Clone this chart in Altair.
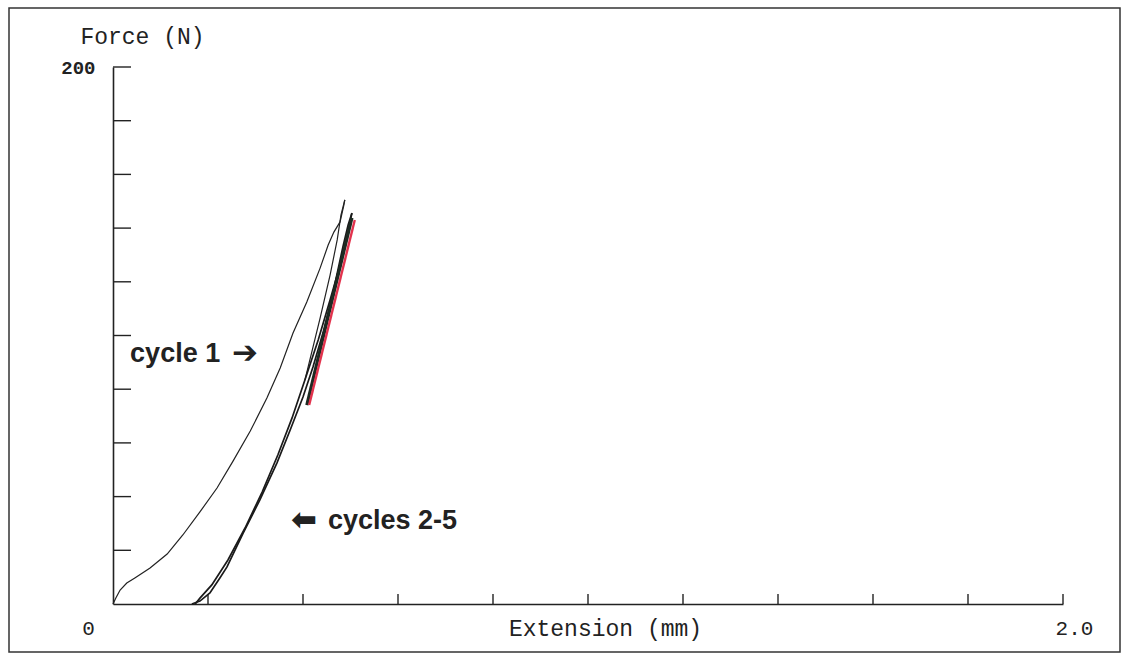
import altair as alt
import pandas as pd

# ---- data (Extension mm, Force N) ----
c1_load_x = [0.000, 0.006, 0.015, 0.029, 0.046, 0.078, 0.114, 0.147, 0.183, 0.219, 0.253, 0.289,
             0.324, 0.352, 0.379, 0.408, 0.436, 0.453, 0.465, 0.478, 0.486, 0.488]
c1_load_y = [0.0, 2.2, 5.2, 7.8, 9.7, 13.4, 18.6, 25.7, 34.3, 43.2, 53.3, 64.4,
             76.7, 87.9, 100.9, 112.5, 125.1, 133.7, 138.5, 142.3, 148.6, 150.5]

c1_unload_x = [0.488, 0.480, 0.472, 0.457, 0.436, 0.404]
c1_unload_y = [150.5, 144.9, 135.6, 122.5, 106.5, 83.4]

c25_load_x = [0.166, 0.183, 0.204, 0.225, 0.240, 0.274, 0.309, 0.345, 0.373, 0.400, 0.421,
              0.442, 0.463, 0.484, 0.495, 0.503]
c25_load_y = [0.0, 1.1, 4.1, 9.7, 13.8, 26.4, 38.7, 52.5, 64.8, 77.1, 88.3,
              100.9, 115.8, 133.0, 141.2, 145.6]

c25_unload_x = [0.503, 0.493, 0.478, 0.457, 0.432, 0.404, 0.377, 0.347, 0.314, 0.278, 0.242,
                0.208, 0.183, 0.173]
c25_unload_y = [145.6, 137.4, 126.3, 113.2, 98.3, 83.4, 69.3, 55.5, 41.7, 28.3, 16.4,
                7.1, 2.2, 0.0]

fit_x = [0.413, 0.509]
fit_y = [74.1, 143.0]
fit_shadow_x = [0.408, 0.503]
fit_shadow_y = [74.1, 143.8]

y_ticks = [20, 40, 60, 80, 100, 120, 140, 160, 180, 200]
x_ticks = [0.2, 0.4, 0.6, 0.8, 1.0, 1.2, 1.4, 1.6, 1.8, 2.0]

notes_text = ["cycle 1", "cycles 2-5"]
notes_x = [0.036, 0.4526]
notes_y = [93.1, 30.9]

arrows_text = ["\u2794", "\u2B05"]
arrows_x = [0.2505, 0.3747]
arrows_y = [93.1, 30.9]


def series(name, xs, ys):
    return pd.DataFrame({"series": name, "ext": xs, "force": ys, "order": range(len(xs))})


curves1 = pd.concat([
    series("c1_load", c1_load_x, c1_load_y),
    series("c1_unload", c1_unload_x, c1_unload_y),
])
curves25 = pd.concat([
    series("c25_load", c25_load_x, c25_load_y),
    series("c25_unload", c25_unload_x, c25_unload_y),
])
fit = series("fit", fit_x, fit_y)
shadow = series("shadow", fit_shadow_x, fit_shadow_y)

xs = alt.Scale(domain=[0, 2], nice=False, zero=False)
ys = alt.Scale(domain=[0, 200], nice=False, zero=False)

MONO = "Liberation Mono"

x_enc = alt.X(
    "ext:Q", scale=xs,
    axis=alt.Axis(
        values=[0, 2], ticks=False, grid=False, labelFlush=False,
        labelExpr="datum.value == 0 ? '0' : '2.0'",
        labelFont=MONO, labelFontSize=21, labelColor="#222",
        labelPadding=24, labelBaseline="middle", labelAlign="center",
        labelOffset={"condition": {"test": "datum.value == 0", "value": -25}, "value": 11},
        domainColor="#222", domainWidth=1.6,
        title="Extension (mm)", titleFont=MONO, titleFontSize=23, titleFontWeight="normal",
        titleColor="#222", titleX=492, titleY=24, titleBaseline="middle", titleAlign="center",
    ),
)
y_enc = alt.Y(
    "force:Q", scale=ys,
    axis=alt.Axis(
        values=[200], ticks=False, grid=False,
        labelFont=MONO, labelFontSize=19, labelFontWeight="bold", labelColor="#222",
        labelPadding=18, labelBaseline="middle",
        domainColor="#222", domainWidth=1.6,
        title="Force (N)", titleFont=MONO, titleFontSize=23, titleFontWeight="normal",
        titleColor="#222", titleAngle=0, titleX=29, titleY=-31,
        titleBaseline="middle", titleAlign="center",
    ),
)

lines1 = alt.Chart(curves1).mark_line(color="#222", strokeWidth=1.2).encode(
    x=x_enc, y=y_enc, detail="series:N", order="order:Q"
)
lines25 = alt.Chart(curves25).mark_line(color="#1a1a1a", strokeWidth=1.7).encode(
    x=alt.X("ext:Q", scale=xs), y=alt.Y("force:Q", scale=ys), detail="series:N", order="order:Q"
)

shadow_line = alt.Chart(shadow).mark_line(color="#1d2a22", strokeWidth=3.2).encode(
    x=alt.X("ext:Q", scale=xs), y=alt.Y("force:Q", scale=ys), order="order:Q"
)
fit_line = alt.Chart(fit).mark_line(color="#e2334d", strokeWidth=2.4).encode(
    x=alt.X("ext:Q", scale=xs), y=alt.Y("force:Q", scale=ys), order="order:Q"
)

yt = alt.Chart(pd.DataFrame({"force": y_ticks})).mark_rule(color="#222", strokeWidth=1.4).encode(
    y=alt.Y("force:Q", scale=ys), x=alt.value(0), x2=alt.value(18)
)
xt = alt.Chart(pd.DataFrame({"ext": x_ticks})).mark_rule(color="#222", strokeWidth=1.4).encode(
    x=alt.X("ext:Q", scale=xs), y=alt.value(527), y2=alt.value(537)
)

notes = alt.Chart(pd.DataFrame({"t": notes_text, "ext": notes_x, "force": notes_y})).mark_text(
    font="Liberation Sans", fontSize=27, fontWeight="bold", align="left", baseline="middle",
    color="#222"
).encode(x=alt.X("ext:Q", scale=xs), y=alt.Y("force:Q", scale=ys), text="t:N")

arrows = alt.Chart(pd.DataFrame({"t": arrows_text, "ext": arrows_x, "force": arrows_y})).mark_text(
    font="DejaVu Sans", fontSize=31, fontWeight="bold", align="left", baseline="middle",
    color="#222"
).encode(x=alt.X("ext:Q", scale=xs), y=alt.Y("force:Q", scale=ys), text="t:N")

frame = alt.Chart(pd.DataFrame({"a": [0]})).mark_rect(
    fill=None, stroke="#333", strokeWidth=1.5, clip=False
).encode(x=alt.value(-104), x2=alt.value(1007), y=alt.value(-59), y2=alt.value(585))

chart = alt.layer(frame, lines1, lines25, shadow_line, fit_line, yt, xt, notes, arrows).properties(
    width=950, height=537,
    autosize=alt.AutoSizeParams(type="none"),
    padding={"left": 113, "top": 67, "right": 63, "bottom": 52},
    background="white",
).configure_view(stroke=None)

chart.save("out.html", embed_options={"renderer": "svg", "actions": False})
